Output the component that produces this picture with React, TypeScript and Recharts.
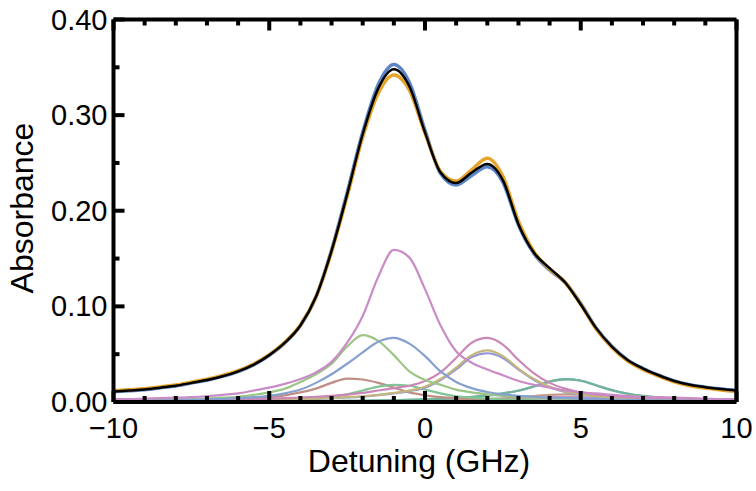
import { Line, LineChart, XAxis, YAxis } from "recharts";

const FONT = "'Liberation Sans', Arial, Helvetica, sans-serif";

// detuning grid (GHz)
const detuning = [-10, -9.5, -9, -8.5, -8, -7.5, -7, -6.5, -6, -5.5, -5, -4.5, -4, -3.5, -3, -2.5, -2, -1.5, -1, -0.5, 0, 0.5, 1, 1.5, 2, 2.5, 3, 3.5, 4, 4.5, 5, 5.5, 6, 6.5, 7, 7.5, 8, 8.5, 9, 9.5, 10];

// measured absorbance, two runs
const dataBlue = [0.0108, 0.0118, 0.0128, 0.0148, 0.0168, 0.0198, 0.0228, 0.0268, 0.0318, 0.0388, 0.0488, 0.0618, 0.08, 0.11, 0.159, 0.219, 0.282, 0.332, 0.353, 0.334, 0.284, 0.239, 0.227, 0.237, 0.246, 0.23, 0.185, 0.155, 0.138, 0.125, 0.103, 0.077, 0.058, 0.044, 0.035, 0.028, 0.022, 0.018, 0.0155, 0.0135, 0.012];
const dataOrange = [0.0118, 0.0128, 0.0138, 0.0158, 0.0178, 0.0208, 0.0238, 0.0278, 0.0328, 0.0398, 0.0495, 0.0625, 0.0805, 0.11, 0.157, 0.215, 0.277, 0.323, 0.342, 0.326, 0.281, 0.241, 0.231, 0.243, 0.255, 0.236, 0.189, 0.157, 0.139, 0.125, 0.102, 0.076, 0.057, 0.043, 0.034, 0.027, 0.021, 0.017, 0.0145, 0.0125, 0.011];

// total fit
const fit = [0.011, 0.012, 0.013, 0.015, 0.017, 0.02, 0.023, 0.027, 0.032, 0.039, 0.049, 0.062, 0.08, 0.11, 0.158, 0.217, 0.28, 0.328, 0.348, 0.33, 0.282, 0.24, 0.229, 0.24, 0.249, 0.232, 0.186, 0.156, 0.14, 0.125, 0.102, 0.077, 0.058, 0.044, 0.035, 0.028, 0.022, 0.018, 0.0155, 0.0135, 0.012];

// individual hyperfine components
const pinkA = [0.003, 0.003, 0.0035, 0.004, 0.0045, 0.005, 0.006, 0.0075, 0.009, 0.012, 0.015, 0.019, 0.024, 0.031, 0.042, 0.062, 0.09, 0.131, 0.159, 0.151, 0.118, 0.08, 0.053, 0.041, 0.034, 0.028, 0.022, 0.018, 0.015, 0.012, 0.01, 0.009, 0.0075, 0.0065, 0.0055, 0.005, 0.0045, 0.004, 0.0035, 0.003, 0.003];
const greenA = [0.0015, 0.0017, 0.002, 0.0023, 0.0027, 0.003, 0.0037, 0.0045, 0.0055, 0.0075, 0.01, 0.014, 0.021, 0.029, 0.04, 0.058, 0.07, 0.064, 0.049, 0.032, 0.023, 0.018, 0.013, 0.01, 0.008, 0.0065, 0.0055, 0.0045, 0.004, 0.0035, 0.003, 0.0025, 0.002, 0.002, 0.0017, 0.0015, 0.0013, 0.0012, 0.0011, 0.001, 0.001];
const blueA = [0.0012, 0.0013, 0.0015, 0.0017, 0.002, 0.0023, 0.0027, 0.0033, 0.004, 0.005, 0.0065, 0.009, 0.013, 0.02, 0.029, 0.04, 0.052, 0.063, 0.067, 0.061, 0.048, 0.032, 0.021, 0.0145, 0.0105, 0.008, 0.0065, 0.0055, 0.0045, 0.004, 0.0035, 0.003, 0.0025, 0.0022, 0.002, 0.0017, 0.0015, 0.0013, 0.0012, 0.0011, 0.001];
const brownA = [0.0008, 0.0009, 0.001, 0.0012, 0.0014, 0.0016, 0.002, 0.0024, 0.003, 0.0038, 0.005, 0.007, 0.01, 0.014, 0.02, 0.0245, 0.0235, 0.02, 0.015, 0.01, 0.007, 0.005, 0.004, 0.0032, 0.0026, 0.0022, 0.0018, 0.0016, 0.0014, 0.0012, 0.0011, 0.001, 0.0009, 0.0008, 0.0007, 0.0007, 0.0006, 0.0006, 0.0005, 0.0005, 0.0005];
const greenB = [0.0003, 0.0003, 0.0004, 0.0004, 0.0005, 0.0006, 0.0007, 0.0008, 0.001, 0.0012, 0.0015, 0.002, 0.0027, 0.0037, 0.0055, 0.008, 0.012, 0.016, 0.018, 0.017, 0.013, 0.009, 0.006, 0.0045, 0.0035, 0.0028, 0.0022, 0.0018, 0.0015, 0.0013, 0.0011, 0.001, 0.0008, 0.0007, 0.0006, 0.0005, 0.0005, 0.0004, 0.0004, 0.0003, 0.0003];
const pinkB = [0.001, 0.001, 0.0012, 0.0013, 0.0015, 0.0017, 0.002, 0.0022, 0.0025, 0.003, 0.0035, 0.004, 0.0047, 0.0055, 0.0065, 0.0078, 0.0095, 0.012, 0.0145, 0.017, 0.022, 0.031, 0.046, 0.062, 0.067, 0.06, 0.044, 0.03, 0.02, 0.014, 0.01, 0.008, 0.0062, 0.005, 0.0042, 0.0035, 0.003, 0.0026, 0.0023, 0.002, 0.0018];
const oliveB = [0.0005, 0.0005, 0.0006, 0.0007, 0.0008, 0.0009, 0.001, 0.0012, 0.0014, 0.0016, 0.002, 0.0024, 0.003, 0.0035, 0.0042, 0.005, 0.006, 0.0075, 0.0095, 0.012, 0.016, 0.024, 0.036, 0.049, 0.054, 0.048, 0.035, 0.024, 0.016, 0.011, 0.008, 0.006, 0.0047, 0.0038, 0.003, 0.0025, 0.0021, 0.0018, 0.0015, 0.0013, 0.0012];
const blueB = [0.0005, 0.0005, 0.0006, 0.0006, 0.0007, 0.0008, 0.001, 0.0011, 0.0013, 0.0015, 0.0019, 0.0023, 0.0028, 0.0033, 0.004, 0.0047, 0.0057, 0.0071, 0.009, 0.0114, 0.015, 0.023, 0.034, 0.047, 0.051, 0.046, 0.034, 0.023, 0.0155, 0.0105, 0.0076, 0.0057, 0.0045, 0.0036, 0.0029, 0.0024, 0.002, 0.0017, 0.0014, 0.0012, 0.0011];
const tealC = [0.0002, 0.0002, 0.0002, 0.0003, 0.0003, 0.0003, 0.0004, 0.0004, 0.0005, 0.0005, 0.0006, 0.0007, 0.0008, 0.0009, 0.001, 0.0012, 0.0014, 0.0016, 0.0019, 0.0023, 0.0028, 0.0034, 0.0042, 0.0053, 0.0068, 0.009, 0.012, 0.0165, 0.0215, 0.024, 0.0225, 0.0175, 0.0125, 0.0088, 0.0064, 0.0048, 0.0038, 0.003, 0.0025, 0.0021, 0.0018];
const steelC = [0.0002, 0.0002, 0.0002, 0.0002, 0.0003, 0.0003, 0.0003, 0.0004, 0.0004, 0.0005, 0.0006, 0.0006, 0.0007, 0.0008, 0.001, 0.0011, 0.0013, 0.0015, 0.0018, 0.0022, 0.0027, 0.0033, 0.0041, 0.0052, 0.0066, 0.0088, 0.0118, 0.0162, 0.0211, 0.0236, 0.0222, 0.0172, 0.0122, 0.0086, 0.0062, 0.0047, 0.0037, 0.003, 0.0024, 0.002, 0.0017];
const brownC = [0.0001, 0.0001, 0.0001, 0.0001, 0.0001, 0.0001, 0.0002, 0.0002, 0.0002, 0.0002, 0.0003, 0.0003, 0.0003, 0.0004, 0.0004, 0.0005, 0.0006, 0.0007, 0.0008, 0.001, 0.0012, 0.0015, 0.0019, 0.0024, 0.003, 0.0038, 0.0048, 0.0062, 0.0075, 0.008, 0.0076, 0.0063, 0.0049, 0.0037, 0.0028, 0.0022, 0.0017, 0.0014, 0.0012, 0.001, 0.0009];
const pinkC = [0.0001, 0.0001, 0.0001, 0.0001, 0.0001, 0.0001, 0.0001, 0.0001, 0.0002, 0.0002, 0.0002, 0.0002, 0.0003, 0.0003, 0.0003, 0.0004, 0.0004, 0.0005, 0.0006, 0.0007, 0.0009, 0.0011, 0.0014, 0.0018, 0.0023, 0.0029, 0.0036, 0.0045, 0.0052, 0.0055, 0.0052, 0.0044, 0.0035, 0.0027, 0.0021, 0.0017, 0.0013, 0.0011, 0.0009, 0.0008, 0.0007];

const xTicks = [-10, -9, -8, -7, -6, -5, -4, -3, -2, -1, 0, 1, 2, 3, 4, 5, 6, 7, 8, 9, 10];
const yTicks = [0, 0.05, 0.1, 0.15, 0.2, 0.25, 0.3, 0.35, 0.4];

const components: [string, number[], string][] = [
  ["pinkC", pinkC, "#c796c8"],
  ["brownC", brownC, "#c49c8c"],
  ["steelC", steelC, "#7fa6cc"],
  ["tealC", tealC, "#72b596"],
  ["brownA", brownA, "#bf8f86"],
  ["greenB", greenB, "#82c496"],
  ["blueB", blueB, "#9396d6"],
  ["oliveB", oliveB, "#c4b77c"],
  ["pinkB", pinkB, "#cb87b6"],
  ["greenA", greenA, "#9cc686"],
  ["blueA", blueA, "#86a0d0"],
  ["pinkA", pinkA, "#c98cc6"],
];

const rows = detuning.map((d, i) => {
  const r: Record<string, number> = { d, fit: fit[i], dataBlue: dataBlue[i], dataOrange: dataOrange[i] };
  components.forEach(([k, arr]) => (r[k] = arr[i]));
  return r;
});

const minus = (v: number) => (v < 0 ? `\u2212${-v}` : `${v}`);

function XTick({ x, y, payload, side }: any) {
  const v = payload.value;
  const major = v % 5 === 0;
  const len = major ? 11 : 6;
  const dir = side === "bottom" ? -1 : 1;
  return (
    <g>
      <line x1={x} x2={x} y1={y} y2={y + dir * len} stroke="#000" strokeWidth={4} />
      {side === "bottom" && major && (
        <text x={x} y={y + 36} textAnchor="middle" fontSize={29} fontFamily={FONT} fill="#000">
          {minus(v)}
        </text>
      )}
    </g>
  );
}

function YTick({ x, y, payload, side }: any) {
  const v = payload.value;
  const major = Math.round(v * 100) % 10 === 0;
  const len = major ? 11 : 6;
  const dir = side === "left" ? 1 : -1;
  return (
    <g>
      <line x1={x} x2={x + dir * len} y1={y} y2={y} stroke="#000" strokeWidth={4} />
      {side === "left" && major && (
        <text x={x - 6} y={y + 10} textAnchor="end" fontSize={29} fontFamily={FONT} fill="#000">
          {v.toFixed(2)}
        </text>
      )}
    </g>
  );
}

const axisLine = { stroke: "#000", strokeWidth: 4 };

export default function App() {
  return (
    <div style={{ position: "absolute", left: 0, top: 0, width: 756, height: 491, background: "#fff" }}>
      <LineChart width={756} height={491} data={rows} margin={{ top: 18.5, right: 18.5, bottom: 0, left: 0 }}>
        <XAxis
          dataKey="d"
          type="number"
          domain={[-10, 10]}
          ticks={xTicks}
          height={89}
          tickSize={0}
          tickMargin={0}
          axisLine={axisLine}
          tick={(p: any) => <XTick {...p} side="bottom" />}
          interval={0}
        />
        <XAxis
          xAxisId="top"
          dataKey="d"
          type="number"
          orientation="top"
          domain={[-10, 10]}
          ticks={xTicks}
          height={1}
          tickSize={0}
          tickMargin={0}
          axisLine={axisLine}
          tick={(p: any) => <XTick {...p} side="top" />}
          interval={0}
        />
        <YAxis
          type="number"
          domain={[0, 0.4]}
          ticks={yTicks}
          width={113.5}
          tickSize={0}
          tickMargin={0}
          axisLine={axisLine}
          tick={(p: any) => <YTick {...p} side="left" />}
          interval={0}
        />
        <YAxis
          yAxisId="right"
          type="number"
          orientation="right"
          domain={[0, 0.4]}
          ticks={yTicks}
          width={1}
          tickSize={0}
          tickMargin={0}
          axisLine={axisLine}
          tick={(p: any) => <YTick {...p} side="right" />}
          interval={0}
        />
        {components.map(([k, , c]) => (
          <Line key={k} dataKey={k} type="monotone" stroke={c} strokeWidth={2.2} dot={false} isAnimationActive={false} />
        ))}
        <Line dataKey="dataBlue" type="monotone" stroke="#5b85c6" strokeWidth={3.5} dot={false} isAnimationActive={false} />
        <Line dataKey="dataOrange" type="monotone" stroke="#e6a42c" strokeWidth={3.5} dot={false} isAnimationActive={false} />
        <Line dataKey="fit" type="monotone" stroke="#000" strokeWidth={2.5} dot={false} isAnimationActive={false} />
      </LineChart>
      <div
        style={{
          position: "absolute",
          left: 22,
          top: 208,
          transform: "translate(-50%, -50%) rotate(-90deg)",
          fontFamily: FONT,
          fontSize: 32,
          lineHeight: "34px",
          whiteSpace: "nowrap",
          color: "#000",
        }}
      >
        Absorbance
      </div>
      <div
        style={{
          position: "absolute",
          left: 419,
          top: 444,
          transform: "translateX(-50%)",
          fontFamily: FONT,
          fontSize: 32,
          lineHeight: "34px",
          whiteSpace: "nowrap",
          color: "#000",
        }}
      >
        Detuning (GHz)
      </div>
    </div>
  );
}
